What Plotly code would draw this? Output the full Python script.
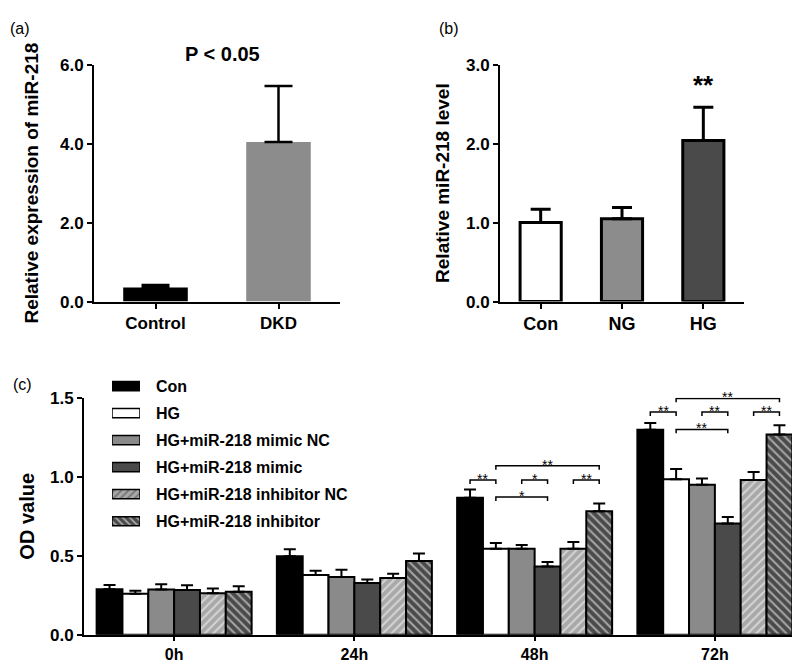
import plotly.graph_objects as go

W, H = 800, 664
FONT = "Liberation Sans, Arial, sans-serif"

# ---------- data ----------
a_cats = ["Control", "DKD"]
a_vals = [0.36, 4.04]
a_errs = [0.06, 1.42]

b_cats = ["Con", "NG", "HG"]
b_vals = [1.00, 1.05, 2.04]
b_errs = [0.17, 0.14, 0.42]

c_times = ["0h", "24h", "48h", "72h"]
c_series = ["Con", "HG", "HG+miR-218 mimic NC", "HG+miR-218 mimic",
            "HG+miR-218 inhibitor NC", "HG+miR-218 inhibitor"]
c_con = [0.289, 0.497, 0.868, 1.297]
c_con_err = [0.026, 0.044, 0.051, 0.043]
c_hg = [0.259, 0.379, 0.544, 0.985]
c_hg_err = [0.019, 0.027, 0.037, 0.065]
c_mnc = [0.287, 0.365, 0.544, 0.950]
c_mnc_err = [0.033, 0.046, 0.024, 0.039]
c_mim = [0.283, 0.328, 0.433, 0.704]
c_mim_err = [0.031, 0.022, 0.027, 0.041]
c_inc = [0.263, 0.360, 0.544, 0.979]
c_inc_err = [0.030, 0.027, 0.043, 0.051]
c_inh = [0.273, 0.467, 0.782, 1.268]
c_inh_err = [0.035, 0.047, 0.049, 0.058]

# significance brackets: (time index, bar i, bar j, y, label)
brackets = [
    (2, 0, 1, 0.98, "**"), (2, 2, 3, 0.98, "*"), (2, 4, 5, 0.98, "**"),
    (2, 1, 5, 1.07, "**"), (2, 1, 3, 0.872, "*"),
    (3, 0, 1, 1.41, "**"), (3, 2, 3, 1.41, "**"), (3, 4, 5, 1.41, "**"),
    (3, 1, 5, 1.496, "**"), (3, 1, 3, 1.30, "**"),
]

# ---------- styles ----------
c_fill = ["#000000", "#ffffff", "#8a8a8a", "#4a4a4a", "#a8a8a8", "#4a4a4a"]
c_shape = ["", "", "", "", "/", "\\"]

fig = go.Figure()

def dom_x(p0, p1):
    return [p0 / W, p1 / W]

def dom_y(top, bottom):
    return [1 - bottom / H, 1 - top / H]

# ---------- panel (a) ----------
fig.add_trace(go.Bar(
    x=a_cats, y=a_vals, width=0.525, xaxis="x", yaxis="y",
    marker=dict(color=["#000000", "#8c8c8c"], line=dict(width=0)),
    error_y=dict(type="data", array=a_errs, arrayminus=[0, 0], symmetric=False,
                 color="black", thickness=2.5, width=14),
    showlegend=False))

# ---------- panel (b) ----------
fig.add_trace(go.Bar(
    x=b_cats, y=b_vals, width=0.506, xaxis="x2", yaxis="y2",
    marker=dict(color=["#ffffff", "#8c8c8c", "#4a4a4a"], line=dict(color="black", width=3)),
    error_y=dict(type="data", array=b_errs, arrayminus=[0, 0, 0], symmetric=False,
                 color="black", thickness=3, width=10),
    showlegend=False))

# ---------- panel (c) ----------
c_vals = [c_con, c_hg, c_mnc, c_mim, c_inc, c_inh]
c_errs = [c_con_err, c_hg_err, c_mnc_err, c_mim_err, c_inc_err, c_inh_err]
xs = list(range(len(c_times)))
for k, name in enumerate(c_series):
    pat = dict(shape=c_shape[k], fgcolor="white", bgcolor=c_fill[k], size=6, solidity=0.35) \
        if c_shape[k] else dict(shape="")
    fig.add_trace(go.Bar(
        x=xs, y=c_vals[k], name=name, xaxis="x3", yaxis="y3",
        marker=dict(color=c_fill[k], line=dict(color="black", width=2), pattern=pat),
        error_y=dict(type="data", array=c_errs[k], arrayminus=[0] * 4, symmetric=False,
                     color="black", thickness=2, width=6),
        showlegend=False))

GROUP = 0.86
BW = GROUP / len(c_series)

def bar_center(g, i):
    return g - GROUP / 2 + BW * (i + 0.5)

TICKD = 0.025
for g, i, j, yv, lab in brackets:
    x1, x2 = bar_center(g, i), bar_center(g, j)
    fig.add_trace(go.Scatter(
        x=[x1, x1, x2, x2], y=[yv - TICKD, yv, yv, yv - TICKD], mode="lines",
        line=dict(color="black", width=1.5), xaxis="x3", yaxis="y3",
        cliponaxis=False, showlegend=False, hoverinfo="skip"))
    fig.add_annotation(x=(x1 + x2) / 2, y=yv, xref="x3", yref="y3", text=lab,
                       showarrow=False, yanchor="middle", yshift=1,
                       font=dict(family=FONT, size=14, color="black"))

# ---------- custom legend (swatches via a hidden bar subplot) ----------
leg_idx = list(range(len(c_series)))
fig.add_trace(go.Bar(
    y=leg_idx, x=[1] * len(c_series), base=[0] * len(c_series), orientation="h",
    width=0.34, xaxis="x4", yaxis="y4",
    marker=dict(color=c_fill, line=dict(color="black", width=1.5),
                pattern=dict(shape=c_shape, fgcolor="white", bgcolor=c_fill,
                             size=5, solidity=0.35)),
    showlegend=False, hoverinfo="skip"))
for k, name in enumerate(c_series):
    fig.add_annotation(x=1, y=k, xref="x4", yref="y4", text=name, showarrow=False,
                       xanchor="left", yanchor="middle", xshift=14,
                       font=dict(family=FONT, size=16, color="black", weight="bold"))

# ---------- axes ----------
tick_common = dict(showline=True, linecolor="black", linewidth=2, ticks="outside",
                   tickcolor="black", tickwidth=2, showgrid=False, zeroline=False)

fig.update_layout(
    width=W, height=H, margin=dict(l=0, r=0, t=0, b=0),
    paper_bgcolor="white", plot_bgcolor="white",
    barmode="group", bargap=0.14, bargroupgap=0,
    font=dict(family=FONT, color="black"),
    xaxis=dict(domain=dom_x(86, 332), anchor="y", range=[-0.5, 1.5], ticklen=5,
               tickfont=dict(size=17, weight="bold"), **tick_common),
    yaxis=dict(domain=dom_y(49, 293), anchor="x", range=[0, 6], tickvals=[0, 2, 4, 6],
               tickformat=".1f", ticklen=5, tickfont=dict(size=17, weight="bold"),
               title=dict(text="Relative expression of miR-218", standoff=16,
                          font=dict(size=19, weight="bold")), **tick_common),
    xaxis2=dict(domain=dom_x(492, 736), anchor="y2", range=[-0.5, 2.5], ticklen=5,
                tickfont=dict(size=18, weight="bold"), **tick_common),
    yaxis2=dict(domain=dom_y(49, 293), anchor="x2", range=[0, 3], tickvals=[0, 1, 2, 3],
                tickformat=".1f", ticklen=5, tickfont=dict(size=17, weight="bold"),
                title=dict(text="Relative miR-218 level", standoff=11,
                           font=dict(size=19, weight="bold")), **tick_common),
    xaxis3=dict(domain=dom_x(76, 797), anchor="y3", range=[-0.5, 3.5], tickvals=xs,
                ticktext=c_times, ticklen=4, tickfont=dict(size=16, weight="bold"),
                **tick_common),
    yaxis3=dict(domain=dom_y(392, 636), anchor="x3", range=[0, 1.5],
                tickvals=[0, 0.5, 1.0, 1.5], tickformat=".1f", ticklen=5,
                tickfont=dict(size=17, weight="bold"),
                title=dict(text="OD value", standoff=10, font=dict(size=20, weight="bold")),
                **tick_common),
    xaxis4=dict(domain=dom_x(104, 132), anchor="y4", range=[0, 1], visible=False),
    yaxis4=dict(domain=dom_y(366, 533), anchor="x4", range=[5.5, -0.5], visible=False),
)

# panel (b) significance
fig.add_annotation(x="HG", y=2.74, xref="x2", yref="y2", text="**", showarrow=False,
                   yanchor="middle", font=dict(family=FONT, size=26, color="black", weight="bold"))
# panel (a) title
fig.add_annotation(x=214 / W, y=1 - 38 / H, xref="paper", yref="paper", text="P < 0.05",
                   showarrow=False, xanchor="center", yanchor="middle",
                   font=dict(family=FONT, size=20, color="black", weight="bold"))
# panel labels
for lab, px, py in [("(a)", 0, 12), ("(b)", 429, 12), ("(c)", 3, 378)]:
    fig.add_annotation(x=px / W, y=1 - py / H, xref="paper", yref="paper", text=lab,
                       showarrow=False, xanchor="left", yanchor="middle",
                       font=dict(family=FONT, size=16, color="black"))

fig.write_html("out.html")
